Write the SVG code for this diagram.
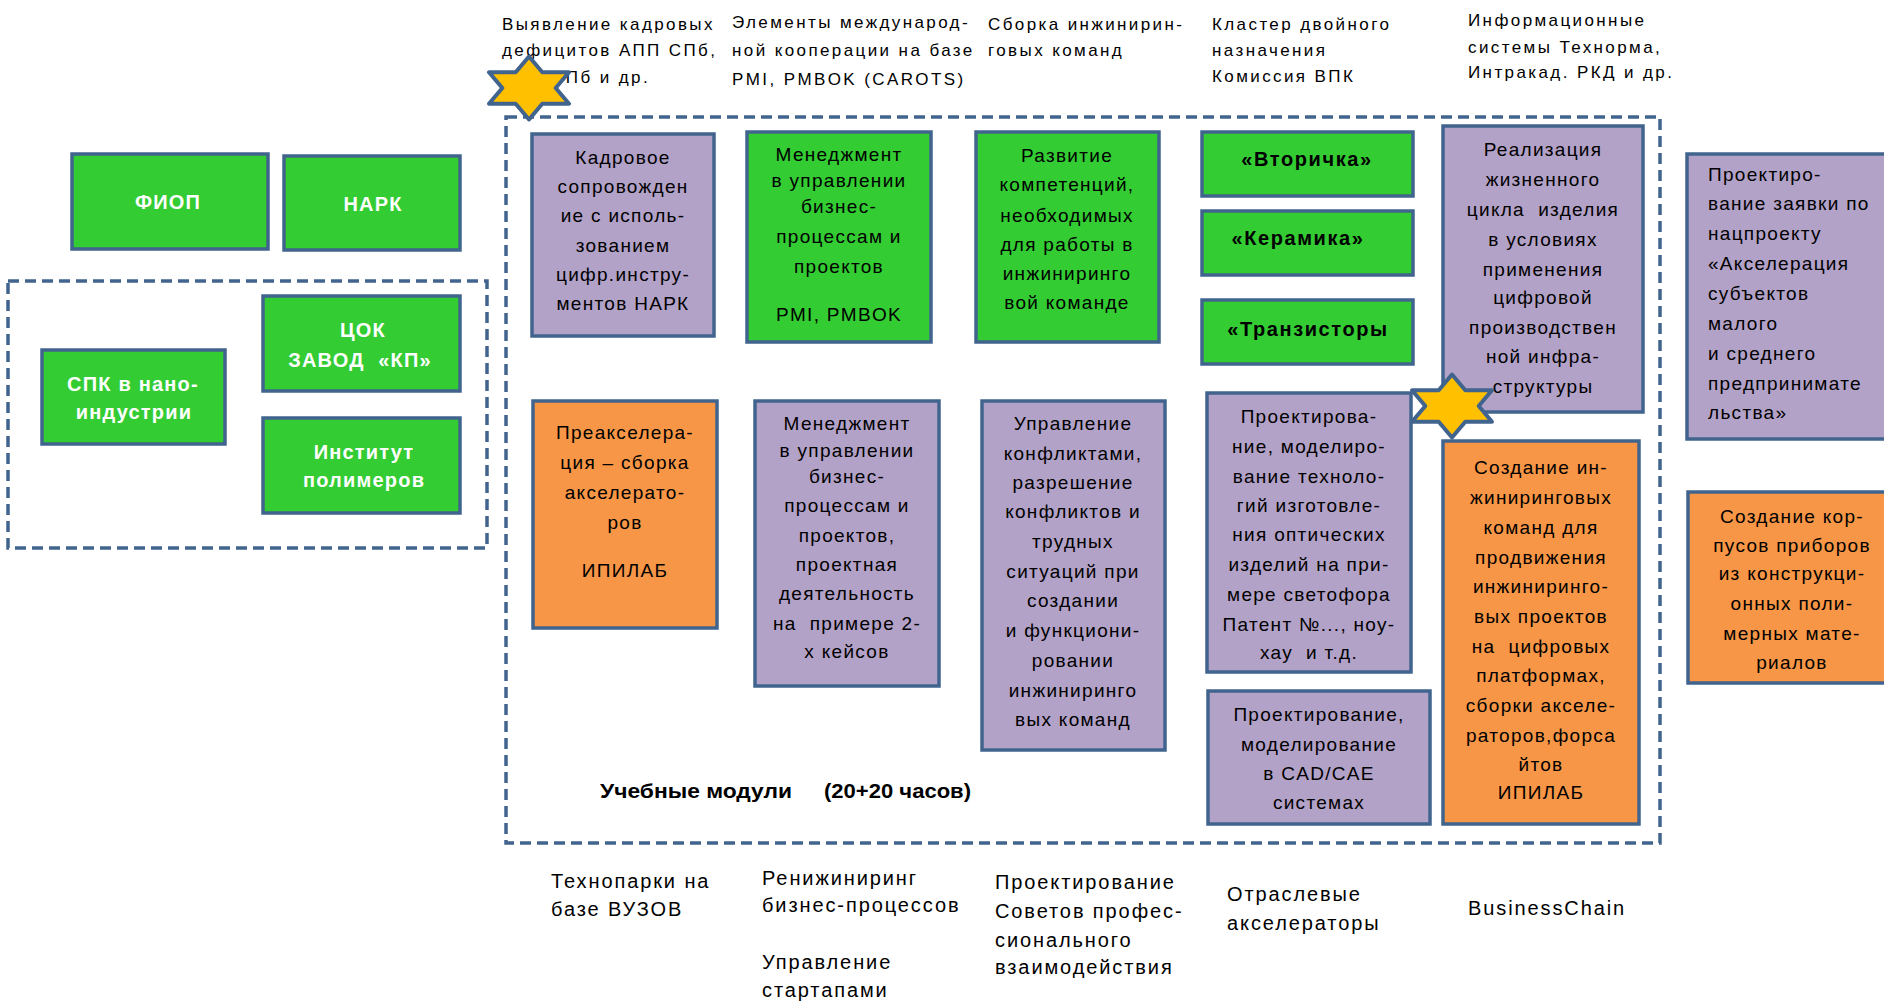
<svg xmlns="http://www.w3.org/2000/svg" xmlns:xlink="http://www.w3.org/1999/xlink" width="1884" height="1001" viewBox="0 0 1884 1001">
<style>
.g{fill:#33CC33;stroke:#41648F;stroke-width:3.5}
.p{fill:#B3A2C7;stroke:#41648F;stroke-width:3.5}
.o{fill:#F79646;stroke:#41648F;stroke-width:3.5}
.dash{fill:none;stroke:#41648F;stroke-width:3.5;stroke-dasharray:11 6}
.t{font-family:"Liberation Sans",Arial,sans-serif;font-size:19px;letter-spacing:1.3px;fill:#000;text-anchor:middle}
.tl{font-family:"Liberation Sans",Arial,sans-serif;font-size:19px;letter-spacing:1.3px;fill:#000}
.b{font-family:"Liberation Sans",Arial,sans-serif;font-size:20px;font-weight:bold;letter-spacing:1.6px;fill:#000;text-anchor:middle}
.w{font-family:"Liberation Sans",Arial,sans-serif;font-size:20px;font-weight:bold;letter-spacing:1.2px;fill:#fff;text-anchor:middle}
.h{font-family:"Liberation Sans",Arial,sans-serif;font-size:17px;letter-spacing:2.4px;fill:#000}
.f{font-family:"Liberation Sans",Arial,sans-serif;font-size:20px;letter-spacing:1.9px;fill:#000}
.m{font-family:"Liberation Sans",Arial,sans-serif;font-size:20px;fill:#000}
</style>
<defs>
<polygon id="star" points="0,-31.5 13.3,-15.75 40,-15.75 26.7,0 40,15.75 13.3,15.75 0,31.5 -13.3,15.75 -40,15.75 -26.7,0 -40,-15.75 -13.3,-15.75" fill="#FFC000" stroke="#41648F" stroke-width="4" stroke-linejoin="round"/>
</defs>
<rect width="1884" height="1001" fill="#fff"/>

<g id="headers">
<text class="h"><tspan x="502" y="30">Выявление кадровых</tspan><tspan x="502" y="56">дефицитов АПП СПб,</tspan><tspan x="502" y="83">ТПП СПб и др.</tspan></text>
<text class="h"><tspan x="732" y="28">Элементы международ-</tspan><tspan x="732" y="56">ной кооперации на базе</tspan><tspan x="732" y="85">PMI, PMBOK (CAROTS)</tspan></text>
<text class="h"><tspan x="988" y="30">Сборка инжинирин-</tspan><tspan x="988" y="56">говых команд</tspan></text>
<text class="h"><tspan x="1212" y="30">Кластер двойного</tspan><tspan x="1212" y="56">назначения</tspan><tspan x="1212" y="82">Комиссия ВПК</tspan></text>
<text class="h"><tspan x="1468" y="26">Информационные</tspan><tspan x="1468" y="53">системы Технорма,</tspan><tspan x="1468" y="78">Интракад. РКД и др.</tspan></text>
</g>

<g id="left-group">
<rect class="dash" x="8" y="281" width="479" height="267"/>
</g>
<g id="node-fiop"><rect class="g" x="72" y="154" width="196" height="95"/><text class="w" x="168" y="209">ФИОП</text></g>
<g id="node-nark"><rect class="g" x="284" y="156" width="176" height="94"/><text class="w" x="373" y="211">НАРК</text></g>
<g id="node-tsok"><rect class="g" x="263" y="296" width="197" height="95"/><text class="w"><tspan x="363" y="337">ЦОК</tspan><tspan x="360" y="367">ЗАВОД&#160; «КП»</tspan></text></g>
<g id="node-spk"><rect class="g" x="42" y="350" width="183" height="94"/><text class="w"><tspan x="133" y="391">СПК в нано-</tspan><tspan x="134" y="419">индустрии</tspan></text></g>
<g id="node-inst"><rect class="g" x="263" y="418" width="197" height="95"/><text class="w"><tspan x="364" y="459">Институт</tspan><tspan x="364" y="487">полимеров</tspan></text></g>

<g id="main-group">
<rect class="dash" x="506" y="117" width="1154" height="726"/>
<text class="m" x="600" y="798" font-weight="bold" textLength="192" lengthAdjust="spacingAndGlyphs">Учебные модули</text>
<text class="m" x="824" y="798" font-weight="bold" textLength="147" lengthAdjust="spacingAndGlyphs">(20+20 часов)</text>
</g>

<g id="node-kadr"><rect class="p" x="532" y="134" width="182" height="202"/>
<text class="t"><tspan x="623" y="164">Кадровое</tspan><tspan x="623" y="193">сопровожден</tspan><tspan x="623" y="222">ие с исполь-</tspan><tspan x="623" y="252">зованием</tspan><tspan x="623" y="281">цифр.инстру-</tspan><tspan x="623" y="310">ментов НАРК</tspan></text></g>

<g id="node-mgmt1"><rect class="g" x="747" y="132" width="184" height="210"/>
<text class="t"><tspan x="839" y="161">Менеджмент</tspan><tspan x="839" y="187">в управлении</tspan><tspan x="839" y="213">бизнес-</tspan><tspan x="839" y="243">процессам и</tspan><tspan x="839" y="273">проектов</tspan><tspan x="839" y="321">PMI, PMBOK</tspan></text></g>

<g id="node-razv"><rect class="g" x="976" y="132" width="183" height="210"/>
<text class="t"><tspan x="1067" y="162">Развитие</tspan><tspan x="1067" y="191">компетенций,</tspan><tspan x="1067" y="222">необходимых</tspan><tspan x="1067" y="251">для работы в</tspan><tspan x="1067" y="280">инжиниринго</tspan><tspan x="1067" y="309">вой команде</tspan></text></g>

<g id="node-vtor"><rect class="g" x="1202" y="132" width="211" height="64"/><text class="b" x="1307" y="166">«Вторичка»</text></g>
<g id="node-ker"><rect class="g" x="1202" y="211" width="211" height="64"/><text class="b" x="1298" y="245">«Керамика»</text></g>
<g id="node-tranz"><rect class="g" x="1202" y="300" width="211" height="64"/><text class="b" x="1308" y="336">«Транзисторы</text></g>

<g id="node-real"><rect class="p" x="1443" y="126" width="200" height="286"/>
<text class="t"><tspan x="1543" y="156">Реализация</tspan><tspan x="1543" y="186">жизненного</tspan><tspan x="1543" y="216">цикла&#160; изделия</tspan><tspan x="1543" y="246">в условиях</tspan><tspan x="1543" y="276">применения</tspan><tspan x="1543" y="304">цифровой</tspan><tspan x="1543" y="334">производствен</tspan><tspan x="1543" y="363">ной инфра-</tspan><tspan x="1543" y="393">структуры</tspan></text></g>

<g id="node-zayavka"><rect class="p" x="1687" y="154" width="215" height="285"/>
<text class="tl"><tspan x="1708" y="181">Проектиро-</tspan><tspan x="1708" y="210">вание заявки по</tspan><tspan x="1708" y="240">нацпроекту</tspan><tspan x="1708" y="270">«Акселерация</tspan><tspan x="1708" y="300">субъектов</tspan><tspan x="1708" y="330">малого</tspan><tspan x="1708" y="360">и среднего</tspan><tspan x="1708" y="390">предпринимате</tspan><tspan x="1708" y="419">льства»</tspan></text></g>

<g id="node-preaccel"><rect class="o" x="533" y="401" width="184" height="227"/>
<text class="t"><tspan x="625" y="439">Преакселера-</tspan><tspan x="625" y="469">ция – сборка</tspan><tspan x="625" y="499">акселерато-</tspan><tspan x="625" y="529">ров</tspan><tspan x="625" y="577">ИПИЛАБ</tspan></text></g>

<g id="node-mgmt2"><rect class="p" x="755" y="401" width="184" height="285"/>
<text class="t"><tspan x="847" y="430">Менеджмент</tspan><tspan x="847" y="457">в управлении</tspan><tspan x="847" y="483">бизнес-</tspan><tspan x="847" y="512">процессам и</tspan><tspan x="847" y="542">проектов,</tspan><tspan x="847" y="571">проектная</tspan><tspan x="847" y="600">деятельность</tspan><tspan x="847" y="630">на&#160; примере 2-</tspan><tspan x="847" y="658">х кейсов</tspan></text></g>

<g id="node-konfl"><rect class="p" x="982" y="401" width="183" height="349"/>
<text class="t"><tspan x="1073" y="430">Управление</tspan><tspan x="1073" y="460">конфликтами,</tspan><tspan x="1073" y="489">разрешение</tspan><tspan x="1073" y="518">конфликтов и</tspan><tspan x="1073" y="548">трудных</tspan><tspan x="1073" y="578">ситуаций при</tspan><tspan x="1073" y="607">создании</tspan><tspan x="1073" y="637">и функциони-</tspan><tspan x="1073" y="667">ровании</tspan><tspan x="1073" y="697">инжиниринго</tspan><tspan x="1073" y="726">вых команд</tspan></text></g>

<g id="node-optic"><rect class="p" x="1207" y="393" width="204" height="279"/>
<text class="t"><tspan x="1309" y="423">Проектирова-</tspan><tspan x="1309" y="453">ние, моделиро-</tspan><tspan x="1309" y="483">вание техноло-</tspan><tspan x="1309" y="512">гий изготовле-</tspan><tspan x="1309" y="541">ния оптических</tspan><tspan x="1309" y="571">изделий на при-</tspan><tspan x="1309" y="601">мере светофора</tspan><tspan x="1309" y="631">Патент №..., ноу-</tspan><tspan x="1309" y="659">хау&#160; и т.д.</tspan></text></g>

<g id="node-cad"><rect class="p" x="1208" y="691" width="222" height="133"/>
<text class="t"><tspan x="1319" y="721">Проектирование,</tspan><tspan x="1319" y="751">моделирование</tspan><tspan x="1319" y="780">в CAD/CAE</tspan><tspan x="1319" y="809">системах</tspan></text></g>

<g id="node-teams"><rect class="o" x="1443" y="441" width="196" height="383"/>
<text class="t"><tspan x="1541" y="474">Создание ин-</tspan><tspan x="1541" y="504">жиниринговых</tspan><tspan x="1541" y="534">команд для</tspan><tspan x="1541" y="564">продвижения</tspan><tspan x="1541" y="593">инжиниринго-</tspan><tspan x="1541" y="623">вых проектов</tspan><tspan x="1541" y="653">на&#160; цифровых</tspan><tspan x="1541" y="682">платформах,</tspan><tspan x="1541" y="712">сборки акселе-</tspan><tspan x="1541" y="742">раторов,форса</tspan><tspan x="1541" y="771">йтов</tspan><tspan x="1541" y="799">ИПИЛАБ</tspan></text></g>

<g id="node-korpus"><rect class="o" x="1688" y="492" width="214" height="191"/>
<text class="t"><tspan x="1792" y="523">Создание кор-</tspan><tspan x="1792" y="552">пусов приборов</tspan><tspan x="1792" y="580">из конструкци-</tspan><tspan x="1792" y="610">онных поли-</tspan><tspan x="1792" y="640">мерных мате-</tspan><tspan x="1792" y="669">риалов</tspan></text></g>

<g id="footers">
<text class="f"><tspan x="551" y="888">Технопарки на</tspan><tspan x="551" y="916">базе ВУЗОВ</tspan></text>
<text class="f"><tspan x="762" y="885">Ренижиниринг</tspan><tspan x="762" y="912">бизнес-процессов</tspan><tspan x="762" y="969">Управление</tspan><tspan x="762" y="997">стартапами</tspan></text>
<text class="f"><tspan x="995" y="889">Проектирование</tspan><tspan x="995" y="918">Советов профес-</tspan><tspan x="995" y="947">сионального</tspan><tspan x="995" y="974">взаимодействия</tspan></text>
<text class="f"><tspan x="1227" y="901">Отраслевые</tspan><tspan x="1227" y="930">акселераторы</tspan></text>
<text class="f" x="1468" y="915">BusinessChain</text>
</g>

<g id="star-1"><use xlink:href="#star" href="#star" x="529" y="88"/></g>
<g id="star-2"><use xlink:href="#star" href="#star" x="1452" y="406"/></g>
</svg>
